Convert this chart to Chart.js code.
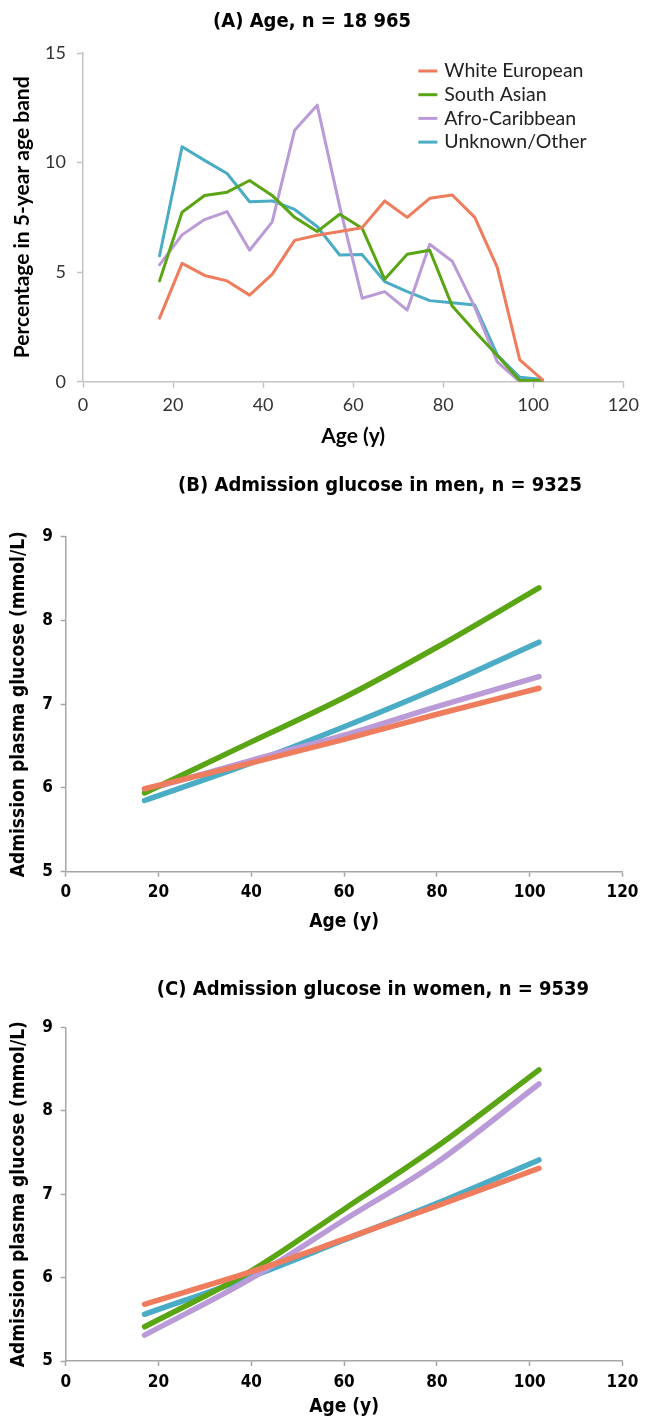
<!DOCTYPE html>
<html>
<head>
<meta charset="utf-8">
<script src="https://cdn.jsdelivr.net/npm/chart.js@4.4.1/dist/chart.umd.min.js"></script>
<style>
  html, body { margin: 0; padding: 0; background: #fff; }
  #page { position: relative; width: 646px; height: 1418px; }
  .panel { position: absolute; left: 0; width: 646px; }
</style>
</head>
<body>
<div id="page">
  <div class="panel" style="top:0;height:450px"><canvas id="chartA"></canvas></div>
  <div class="panel" style="top:450px;height:500px"><canvas id="chartB"></canvas></div>
  <div class="panel" style="top:950px;height:468px"><canvas id="chartC"></canvas></div>
</div>
<script>
// ---- data ----
const groups = ['White European', 'South Asian', 'Afro-Caribbean', 'Unknown/Other'];
const groupColors = ['#EF7C5C', '#5AA514', '#BA9BD8', '#4BACC6'];

// (A) percentage in each 5-year age band (band midpoints)
const bandAges = [17, 22, 27, 32, 37, 42, 47, 52, 57, 62, 67, 72, 77, 82, 87, 92, 97, 102];
const pctWhite = [2.9, 5.4, 4.85, 4.6, 3.95, 4.9, 6.45, 6.68, 6.85, 7.03, 8.25, 7.5, 8.37, 8.52, 7.5, 5.22, 1.0, 0.1];
const pctSouthAsian = [4.6, 7.73, 8.5, 8.65, 9.18, 8.5, 7.5, 6.85, 7.64, 7.0, 4.67, 5.82, 6.0, 3.45, 2.3, 1.2, 0.05, 0.05];
const pctAfroCaribbean = [5.33, 6.7, 7.4, 7.76, 6.0, 7.28, 11.48, 12.62, 8.0, 3.81, 4.11, 3.27, 6.27, 5.5, 3.4, 0.9, 0.0, 0.0];
const pctOther = [5.75, 10.72, 10.1, 9.5, 8.21, 8.25, 7.86, 7.08, 5.78, 5.8, 4.57, 4.11, 3.7, 3.6, 3.5, 1.22, 0.2, 0.1];

// (B) and (C) fitted admission glucose (mmol/L), read at these ages
const fitAges = [17, 40, 60, 80, 102];
const menWhite = [5.99, 6.30, 6.58, 6.88, 7.19];
const menSouthAsian = [5.94, 6.55, 7.08, 7.68, 8.39];
const menAfroCaribbean = [5.97, 6.33, 6.63, 6.97, 7.33];
const menOther = [5.85, 6.30, 6.73, 7.19, 7.74];
const womenWhite = [5.68, 6.07, 6.46, 6.86, 7.31];
const womenSouthAsian = [5.41, 6.08, 6.82, 7.57, 8.49];
const womenAfroCaribbean = [5.31, 5.99, 6.69, 7.38, 8.32];
const womenOther = [5.56, 6.01, 6.45, 6.89, 7.41];

const xTicks = [0, 20, 40, 60, 80, 100, 120];

const NARROW = "'Liberation Sans Narrow', 'Arial Narrow', 'DejaVu Sans Condensed', sans-serif";
const SOFT = "Lato, 'Open Sans', sans-serif";

function toPoints(xs, ys) {
    return xs.map((x, i) => ({ x: x, y: ys[i] }));
}

// panel heading, centred where the original put it
const panelTitle = {
    id: 'panelTitle',
    afterDraw(chart, args, o) {
        const ctx = chart.ctx;
        ctx.save();
        ctx.font = 'bold 20px ' + NARROW;
        ctx.fillStyle = '#000';
        ctx.textAlign = 'center';
        ctx.textBaseline = 'middle';
        ctx.fillText(o.text, o.x, o.y);
        ctx.restore();
    }
};

// legend drawn inside the plot area of panel A
const insideLegend = {
    id: 'insideLegend',
    afterDraw(chart) {
        const ctx = chart.ctx;
        const area = chart.chartArea;
        const x0 = area.right - 205;
        let y = area.top + 18;
        ctx.save();
        ctx.font = '19.5px ' + SOFT;
        ctx.textBaseline = 'middle';
        chart.data.datasets.forEach(ds => {
            ctx.strokeStyle = ds.borderColor;
            ctx.lineWidth = 3;
            ctx.beginPath();
            ctx.moveTo(x0, y);
            ctx.lineTo(x0 + 19, y);
            ctx.stroke();
            ctx.fillStyle = '#222';
            ctx.fillText(ds.label, x0 + 26, y);
            y += 23.7;
        });
        ctx.restore();
    }
};

function makeChart(id, opts) {
    const ctx = document.getElementById(id).getContext('2d');
    return new Chart(ctx, {
        type: 'line',
        data: {
            datasets: opts.series.map((ys, i) => ({
                label: groups[i],
                data: toPoints(opts.xs, ys),
                borderColor: groupColors[i],
                backgroundColor: groupColors[i],
                borderWidth: opts.lineWidth,
                borderCapStyle: 'round',
                borderJoinStyle: 'round',
                pointRadius: 0,
                tension: opts.smooth ? 0.4 : 0,
                cubicInterpolationMode: opts.smooth ? 'monotone' : 'default'
            }))
        },
        options: {
            responsive: true,
            maintainAspectRatio: false,
            animation: false,
            layout: { padding: { left: 0, right: opts.padRight, top: opts.padTop, bottom: 0 } },
            plugins: {
                legend: { display: false },
                tooltip: { enabled: false },
                title: { display: false },
                panelTitle: opts.heading
            },
            scales: {
                x: {
                    type: 'linear',
                    min: 0, max: 120,
                    afterBuildTicks: s => { s.ticks = xTicks.map(v => ({ value: v })); },
                    afterFit: s => { s.height = opts.xHeight; },
                    border: { color: opts.axisColor, width: 1.5 },
                    grid: { drawOnChartArea: false, color: opts.axisColor, tickLength: opts.tickLen, tickWidth: 1.5 },
                    ticks: {
                        color: opts.tickColor, padding: opts.xTickPad, maxRotation: 0,
                        font: opts.tickFont
                    },
                    title: {
                        display: true, text: 'Age (y)', color: '#000',
                        font: opts.titleFont,
                        padding: { top: 0, bottom: opts.xTitlePad }
                    }
                },
                y: {
                    min: opts.yMin, max: opts.yMax,
                    afterFit: s => { s.width = opts.yWidth; },
                    border: { color: opts.axisColor, width: 1.5 },
                    grid: { drawOnChartArea: false, color: opts.axisColor, tickLength: opts.tickLen, tickWidth: 1.5 },
                    ticks: {
                        stepSize: opts.yStep, color: opts.tickColor, padding: opts.yTickPad,
                        font: opts.tickFont
                    },
                    title: {
                        display: true, text: opts.yTitle, color: '#000',
                        font: opts.titleFont,
                        padding: { top: opts.yTitlePad, bottom: 0 }
                    }
                }
            }
        },
        plugins: [panelTitle].concat(opts.plugins || [])
    });
}

makeChart('chartA', {
    heading: { text: '(A) Age, n = 18 965', x: 312, y: 22 },
    padTop: 53,
    xs: bandAges,
    series: [pctWhite, pctSouthAsian, pctAfroCaribbean, pctOther],
    lineWidth: 3,
    smooth: false,
    padRight: 19,
    yMin: 0, yMax: 15, yStep: 5,
    yWidth: 83, xHeight: 68.3,
    tickLen: 6, xTickPad: 7, yTickPad: 11,
    axisColor: '#C4C4C4', tickColor: '#333',
    tickFont: { family: SOFT, size: 18 },
    titleFont: { family: SOFT, size: 21, weight: 'bold', lineHeight: 1.2 },
    xTitlePad: 1.4, yTitlePad: 9.4,
    yTitle: 'Percentage in 5-year age band',
    plugins: [insideLegend]
});

makeChart('chartB', {
    heading: { text: '(B) Admission glucose in men, n = 9325', x: 380, y: 36 },
    padTop: 86.7,
    xs: fitAges,
    series: [menWhite, menSouthAsian, menAfroCaribbean, menOther],
    lineWidth: 5.5,
    smooth: true,
    padRight: 23.5,
    yMin: 5, yMax: 9, yStep: 1,
    yWidth: 65.7, xHeight: 78.3,
    tickLen: 5, xTickPad: 6, yTickPad: 7.7,
    axisColor: '#A6A6A6', tickColor: '#000',
    tickFont: { family: NARROW, size: 17, weight: 'bold' },
    titleFont: { family: NARROW, size: 19, weight: 'bold', lineHeight: 1 },
    xTitlePad: 18.3, yTitlePad: 10,
    yTitle: 'Admission plasma glucose (mmol/L)'
});

makeChart('chartC', {
    heading: { text: '(C) Admission glucose in women, n = 9539', x: 373, y: 40 },
    padTop: 77.3,
    xs: fitAges,
    series: [womenWhite, womenSouthAsian, womenAfroCaribbean, womenOther],
    lineWidth: 5.5,
    smooth: true,
    padRight: 23.5,
    yMin: 5, yMax: 9, yStep: 1,
    yWidth: 65.7, xHeight: 57,
    tickLen: 5, xTickPad: 6, yTickPad: 7.7,
    axisColor: '#A6A6A6', tickColor: '#000',
    tickFont: { family: NARROW, size: 17, weight: 'bold' },
    titleFont: { family: NARROW, size: 19, weight: 'bold', lineHeight: 1 },
    xTitlePad: 1.5, yTitlePad: 10,
    yTitle: 'Admission plasma glucose (mmol/L)'
});
</script>
</body>
</html>
